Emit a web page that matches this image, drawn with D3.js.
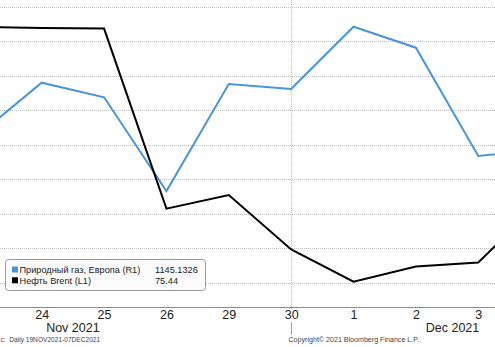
<!DOCTYPE html>
<html><head><meta charset="utf-8">
<script src="https://cdn.jsdelivr.net/npm/d3@7"></script>
<style>body{margin:0;background:#fff}svg{display:block}</style>
</head><body>
<script>
// Trading days 19 Nov 2021 – 07 Dec 2021
const dates = ["19","22","23","24","25","26","29","30","1","2","3","6","7"];
const months = ["Nov 2021","Nov 2021","Nov 2021","Nov 2021","Nov 2021","Nov 2021","Nov 2021","Nov 2021","Dec 2021","Dec 2021","Dec 2021","Dec 2021","Dec 2021"];
// Brent (L1), USD/bbl
const brent = [null, null, 82.31, 82.25, 82.22, 72.72, 73.44, 70.57, 68.87, 69.67, 69.88, 73.1, 75.44];
// Natural gas Europe (R1)
const gas = [null, null, 1065, 1139.6, 1118.4, 982.6, 1137.7, 1130.4, 1220.7, 1190.3, 1033.3, 1042.6, 1145.1326];
const gasTicks = [850, 900, 950, 1000, 1050, 1100, 1150, 1200, 1250];
const legendNames = ["Природный газ, Европа (R1)", "Нефть Brent (L1)"];
const legendValues = ["1145.1326", "75.44"];
const footerLeft = "c:  Daily 19NOV2021-07DEC2021";
const footerRight = "Copyright\u00A9 2021 Bloomberg Finance L.P.";

const W = 495, H = 347;
const FONT = "Liberation Sans, Arial, sans-serif";
const svg = d3.select("body").append("svg").attr("width", W).attr("height", H);
svg.append("defs").append("clipPath").attr("id","clip")
  .append("rect").attr("x",0).attr("y",0).attr("width",W).attr("height",306);

const x = d3.scalePoint().domain(dates).range([-145.4, 603.0]);
const yL = d3.scaleLinear().domain([68, 84]).range([298.2, -5.2]);
const yR = d3.scaleLinear().domain([850, 1250]).range([282.5, 6.5]);
const axisY = 307;

// horizontal gridlines
svg.append("g").selectAll("line").data(gasTicks).join("line")
  .attr("x1", 0).attr("x2", W)
  .attr("y1", d => Math.round(yR(d)) + 0.5).attr("y2", d => Math.round(yR(d)) + 0.5)
  .attr("stroke", "#bdbdbd").attr("stroke-width", 1).attr("stroke-dasharray", "1,1");

// month separator (vertical) at 30
const sepX = Math.round(x("30")) + 0.5;
svg.append("line").attr("x1", sepX).attr("x2", sepX).attr("y1", 0).attr("y2", axisY)
  .attr("stroke", "#bdbdbd").attr("stroke-dasharray", "1,1");
svg.append("line").attr("x1", sepX).attr("x2", sepX).attr("y1", axisY).attr("y2", 309)
  .attr("stroke", "#a0a0a0");
svg.append("line").attr("x1", sepX).attr("x2", sepX).attr("y1", 322).attr("y2", 335)
  .attr("stroke", "#a0a0a0");

// axis (only labels that fall inside the visible picture)
const visible = dates.filter(d => x(d) > 6 && x(d) < W - 6);
const xAxis = d3.axisBottom(x).tickValues(visible).tickSize(0).tickPadding(3);
const gx = svg.append("g").attr("transform", `translate(0,${axisY})`).call(xAxis);
gx.select(".domain").remove();
gx.selectAll("text").attr("font-family", FONT)
  .attr("font-size", 12.5).attr("fill", "#222").attr("dy", "0.71em");
svg.append("line").attr("x1", 0).attr("x2", W).attr("y1", axisY + 0.5).attr("y2", axisY + 0.5)
  .attr("stroke", "#8c8c8c");

// month labels
const novIdx = months.map((m,i)=>m==="Nov 2021"?i:-1).filter(i=>i>=0);
const novX = (x(dates[novIdx[0]]) + x(dates[novIdx[novIdx.length-1]])) / 2;
svg.append("text").attr("x", novX).attr("y", 332).attr("text-anchor", "middle")
  .attr("font-family", FONT).attr("font-size", 12.5).attr("fill", "#222")
  .text("Nov 2021");
svg.append("text").attr("x", x("3") + 1).attr("y", 332).attr("text-anchor", "end")
  .attr("font-family", FONT).attr("font-size", 12.5).attr("fill", "#222")
  .text("Dec 2021");

// lines
const plot = svg.append("g").attr("clip-path", "url(#clip)");
const idx = d3.range(dates.length);
const lineG = d3.line().defined(i => gas[i] != null).x(i => x(dates[i])).y(i => yR(gas[i]));
const lineB = d3.line().defined(i => brent[i] != null).x(i => x(dates[i])).y(i => yL(brent[i]));
plot.append("path").attr("d", lineG(idx)).attr("fill", "none")
  .attr("stroke", "#4895dc").attr("stroke-width", 2).attr("stroke-linejoin", "miter");
plot.append("path").attr("d", lineB(idx)).attr("fill", "none")
  .attr("stroke", "#000").attr("stroke-width", 2).attr("stroke-linejoin", "miter");

// legend
const lg = svg.append("g");
lg.append("rect").attr("x", 5.5).attr("y", 259.5).attr("width", 200).attr("height", 31).attr("rx", 3)
  .attr("fill", "#fbfbfb").attr("stroke", "#9a9a9a");
const colors = ["#4895dc", "#000"];
legendNames.forEach((n, i) => {
  const by = 273.3 + i * 10.8;
  lg.append("rect").attr("x", 12).attr("y", by - 6.8).attr("width", 6).attr("height", 6).attr("fill", colors[i]);
  lg.append("text").attr("x", 19.5).attr("y", by).attr("font-family", FONT)
    .attr("font-size", 9.2).attr("fill", "#222").text(n);
  lg.append("text").attr("x", 155).attr("y", by).attr("font-family", FONT)
    .attr("font-size", 9.2).attr("fill", "#222").text(legendValues[i]);
});

// footer
svg.append("text").attr("x", 0.5).attr("y", 342).attr("font-family", FONT)
  .attr("font-size", 6.6).attr("fill", "#444").attr("xml:space","preserve").text(footerLeft);
svg.append("text").attr("x", 288.5).attr("y", 342).attr("font-family", FONT)
  .attr("font-size", 7.1).attr("fill", "#444").text(footerRight);
</script>
</body></html>
